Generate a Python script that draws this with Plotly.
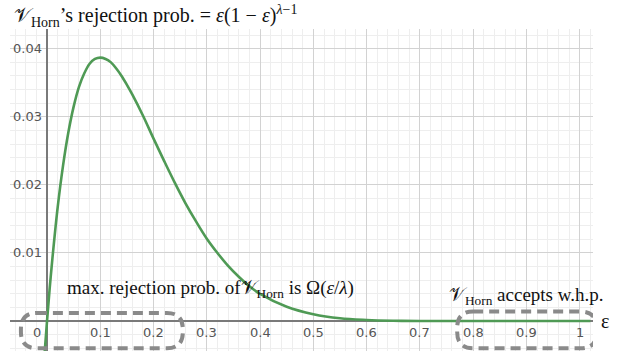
import plotly.graph_objects as go

# values (curve of the rejection probability)
eps = [-0.005, 0.0, 0.005, 0.01, 0.02, 0.03, 0.04, 0.05, 0.06, 0.07, 0.08, 0.09,
       0.10, 0.11, 0.12, 0.13, 0.14, 0.15, 0.16, 0.18, 0.20, 0.22, 0.24, 0.26,
       0.28, 0.30, 0.32, 0.34, 0.36, 0.38, 0.40, 0.45, 0.50, 0.55, 0.60, 0.65,
       0.70, 0.80, 0.90, 1.00, 1.02]
rej_prob = [-0.0052, 0.0, 0.0048, 0.0091, 0.0167, 0.0228, 0.0277, 0.0315, 0.0344,
            0.0364, 0.0378, 0.0385, 0.0387, 0.0385, 0.0380, 0.0371, 0.0360, 0.0347,
            0.0333, 0.0302, 0.0268, 0.0235, 0.0203, 0.0173, 0.0146, 0.0121, 0.0100,
            0.0081, 0.0065, 0.0051, 0.0040, 0.0021, 0.0010, 0.0004, 0.00016, 0.00005,
            0.00001, 0.0, 0.0, 0.0, 0.0]

x_ticks = [0, 0.1, 0.2, 0.3, 0.4, 0.5, 0.6, 0.7, 0.8, 0.9, 1.0]
x_tick_text = ['0', '0.1', '0.2', '0.3', '0.4', '0.5', '0.6', '0.7', '0.8', '0.9', '1']
y_ticks = [0.01, 0.02, 0.03, 0.04]
y_tick_text = ['0.01', '0.02', '0.03', '0.04']

V = '\U0001D4B1'
title_text = (V + '<sub>Horn</sub>\u2019s rejection prob. = <i>\u03b5</i>(1 \u2212 <i>\u03b5</i>)'
              '<sup><i>\u03bb</i>\u22121</sup>')
max_text = ('max. rejection prob. of' + V + '<sub>Horn</sub> is \u03a9(<i>\u03b5</i>/<i>\u03bb</i>)')
accept_text = V + '<sub>Horn</sub> accepts w.h.p.'

serif = 'Liberation Serif'
tick_font = dict(family='DejaVu Sans', size=13, color='#555')


def rounded_box(x0, x1, y0, y1, rx, ry):
    return (f'M{x0 + rx},{y1} L{x1 - rx},{y1} Q{x1},{y1} {x1},{y1 - ry} '
            f'L{x1},{y0 + ry} Q{x1},{y0} {x1 - rx},{y0} L{x0 + rx},{y0} '
            f'Q{x0},{y0} {x0},{y0 + ry} L{x0},{y1 - ry} Q{x0},{y1} {x0 + rx},{y1} Z')


fig = go.Figure()
fig.add_trace(go.Scatter(x=eps, y=rej_prob, mode='lines', line_shape='spline',
                         line=dict(color='#4f9a55', width=2.6), hoverinfo='skip'))

annotations = []
for xv, txt in zip(x_ticks, x_tick_text):
    annotations.append(dict(x=xv, y=0, xref='x', yref='y', text=txt, showarrow=False,
                            font=tick_font, yshift=-11,
                            xshift=-10 if xv == 0 else 0))
for yv, txt in zip(y_ticks, y_tick_text):
    annotations.append(dict(x=0, y=yv, xref='x', yref='y', text=txt, showarrow=False,
                            font=tick_font, xanchor='right', xshift=-3))

annotations += [
    dict(x=0.003, y=1.0, xref='paper', yref='paper', yanchor='top', xanchor='left',
         yshift=29, text=title_text, showarrow=False, font=dict(family=serif, size=20, color='#111')),
    dict(x=0.034, y=0.0047, xref='x', yref='y', xanchor='left', text=max_text,
         showarrow=False, font=dict(family=serif, size=19, color='#111')),
    dict(x=0.75, y=0.0037, xref='x', yref='y', xanchor='left', text=accept_text,
         showarrow=False, font=dict(family=serif, size=19, color='#111')),
    dict(x=1.0, y=0, xref='paper', yref='y', xanchor='left', xshift=6, text='\u03b5',
         showarrow=False, font=dict(family=serif, size=20, color='#111')),
]

box_line = dict(color='#8a8a8a', width=4, dash='10px,6px')
fig.add_shape(type='path', xref='x', yref='y', line=box_line,
              path=rounded_box(-0.049, 0.255, -0.0040, 0.0012, 0.030, 0.0024))
fig.add_shape(type='path', xref='x', yref='y', line=box_line,
              path=rounded_box(0.770, 1.032, -0.0040, 0.0014, 0.030, 0.0024))

fig.update_layout(
    width=623, height=351,
    margin=dict(l=10, r=30, t=29, b=0),
    paper_bgcolor='white', plot_bgcolor='white',
    showlegend=False,
    annotations=annotations,
    xaxis=dict(range=[-0.0695, 1.025], dtick=0.1, tick0=0, showticklabels=False,
               gridcolor='#d2d2d2', gridwidth=1, zeroline=True, zerolinecolor='#7a7a7a',
               zerolinewidth=1.8, showline=False,
               minor=dict(dtick=0.02, showgrid=True, gridcolor='#eeeeee', gridwidth=1)),
    yaxis=dict(range=[-0.0044, 0.0429], dtick=0.01, tick0=0, showticklabels=False,
               gridcolor='#d2d2d2', gridwidth=1, zeroline=True, zerolinecolor='#7a7a7a',
               zerolinewidth=1.8, showline=False,
               minor=dict(dtick=0.002, showgrid=True, gridcolor='#eeeeee', gridwidth=1)),
)

fig.write_html("out.html", config={'displayModeBar': False},
               post_script="document.body.style.margin='0';")
